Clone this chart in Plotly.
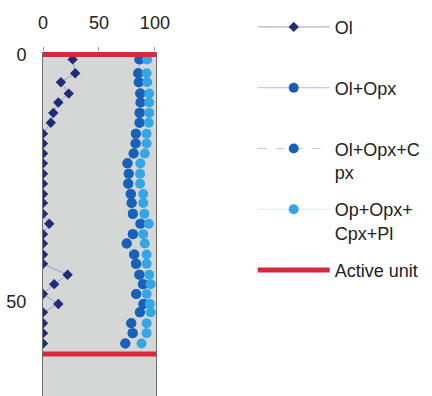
import plotly.graph_objects as go

# Sample depths (down-section)
depth = [1.0, 3.8, 5.6, 7.9, 9.7, 11.8, 13.8, 16.0, 18.0, 20.0,
         22.0, 24.1, 26.1, 28.2, 30.0, 32.2, 34.2, 36.3, 38.2, 40.4,
         42.3, 44.5, 46.4, 48.4, 50.4, 52.1, 54.3, 56.3, 58.4]

# Cumulative modal proportions (%)
ol = [26.5, 28.8, 16.0, 23.0, 13.7, 9.2, 7.0, 0, 0, 0,
      0, 0, 0, 0, 0, 0, 5.6, 0, 0, 0,
      0, 22.0, 10.0, 0, 13.7, 0, 0, 0, 0]
ol_opx = [86.0, 85.1, 85.5, 86.8, 87.2, 86.2, 86.3, 83.0, 82.6, 81.0,
          75.5, 76.6, 76.2, 78.3, 79.2, 80.3, 87.0, 80.3, 74.8, 81.3,
          83.0, 86.0, 89.2, 83.3, 89.6, 86.6, 78.9, 80.0, 73.6]
ol_opx_cpx = [86.6, 85.1, 86.0, 87.2, 87.2, 86.6, 86.3, 83.0, 83.0, 81.0,
              75.5, 76.6, 76.2, 78.7, 79.2, 80.3, 87.3, 80.3, 74.8, 81.7,
              83.3, 86.3, 89.6, 83.3, 90.0, 86.6, 78.9, 80.3, 73.6]
ol_opx_cpx_pl = [93.1, 92.6, 93.1, 94.9, 94.9, 94.9, 94.5, 92.6, 92.6, 91.0,
                 87.0, 86.8, 86.8, 89.6, 89.6, 90.6, 94.5, 89.6, 91.0, 92.6,
                 92.6, 94.9, 96.2, 92.6, 95.5, 96.2, 92.6, 92.6, 88.1]

# Top and base of the active unit
active_unit = [0, 60.5]
active_span = [-2, 104]

x_ticks = [0, 50, 100]
y_ticks = [0, 50]

fig = go.Figure()

fig.add_trace(go.Scatter(
    x=ol, y=depth, name="Ol<br> ", mode="lines+markers", legendgroup="ol",
    line=dict(color="#9b9dc9", width=1),
    marker=dict(symbol="diamond", size=8, color="#1f2c78"),
))
fig.add_trace(go.Scatter(
    x=ol_opx, y=depth, name="Ol+Opx<br> ", mode="lines+markers", legendgroup="oo",
    line=dict(color="#a9c0e4", width=1),
    marker=dict(symbol="circle", size=10, color="#1a5db4"),
))
fig.add_trace(go.Scatter(
    x=ol_opx_cpx, y=depth, name="Ol+Opx+C<br>px", mode="lines+markers", legendgroup="ooc",
    line=dict(color="#b3d0ec", width=1, dash="dash"),
    marker=dict(symbol="circle", size=10, color="#1861b8"),
))
fig.add_trace(go.Scatter(
    x=ol_opx_cpx_pl, y=depth, name="Op+Opx+<br>Cpx+Pl", mode="lines+markers", legendgroup="oocp",
    line=dict(color="#d6eaf6", width=1),
    marker=dict(symbol="circle", size=10, color="#33a6e3"),
))

# Active unit boundaries as horizontal lines across the column
au_x, au_y = [], []
for d in active_unit:
    au_x += [active_span[0], active_span[1], None]
    au_y += [d, d, None]
fig.add_trace(go.Scatter(
    x=au_x, y=au_y, name="Active unit<br> ", mode="lines", legendgroup="au",
    line=dict(color="#d8283c", width=5),
))

fig.update_layout(
    width=432, height=396,
    margin=dict(l=43, r=276, t=52, b=0),
    paper_bgcolor="white",
    plot_bgcolor="#d5d7d7",
    font=dict(family="Liberation Sans, Arial, sans-serif", size=18, color="#222222"),
    showlegend=True,
    legend=dict(
        xref="container", yref="container",
        x=0.585, y=0.978, xanchor="left", yanchor="top",
        font=dict(size=18, color="#222222"),
        valign="top",
        tracegroupgap=11,
        itemwidth=72,
        maxheight=390,
        bgcolor="rgba(0,0,0,0)",
    ),
    xaxis=dict(
        side="top", range=[0, 101], tickvals=x_ticks,
        ticks="outside", ticklen=4, tickcolor="#999999",
        ticklabelstandoff=11,
        showgrid=False, zeroline=False, showline=False,
    ),
    yaxis=dict(
        range=[69, -0.5], tickvals=y_ticks,
        ticks="", ticklabelstandoff=12,
        showgrid=False, zeroline=False,
        showline=True, linecolor="#6e6e6e", linewidth=1, mirror=True,
    ),
)

fig.write_html("out.html")
